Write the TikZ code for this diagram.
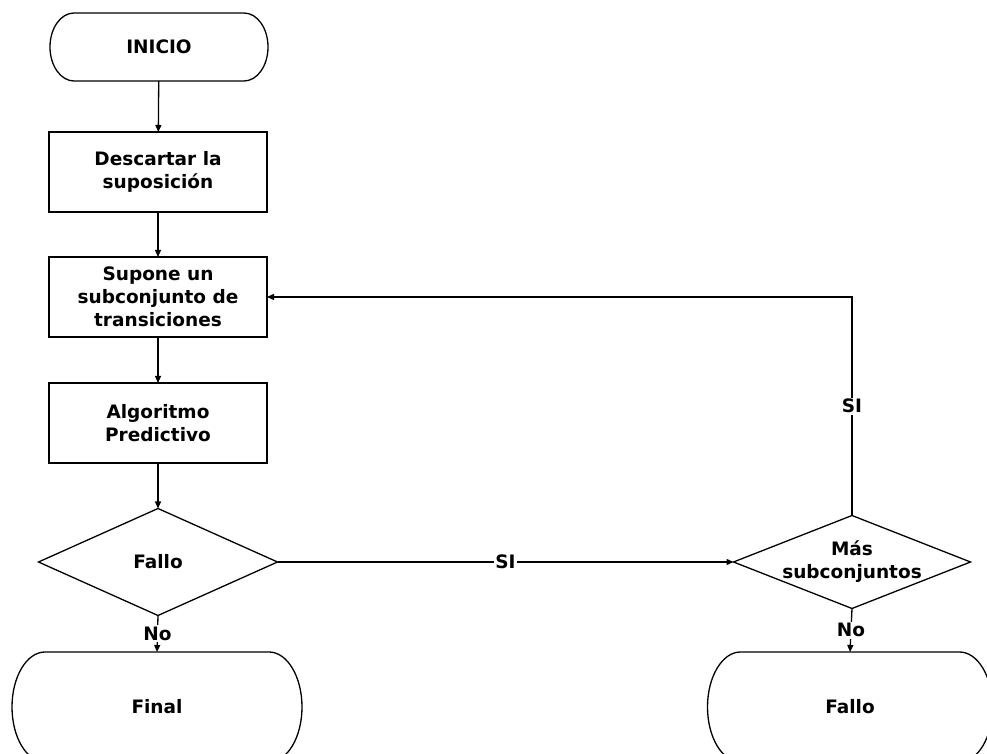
\documentclass[tikz,border=0pt]{standalone}
\usepackage{fontspec}
\setmainfont{DejaVu Sans}
\usetikzlibrary{arrows.meta,shapes.geometric}
\newcommand\stadpath[3]{%
  \draw[line width=1.3pt,fill=white] ([xshift=#2]#1.north west) -- ([xshift=-#2]#1.north east)
    arc[start angle=90,end angle=-90,x radius=#2,y radius=#3]
    -- ([xshift=#2]#1.south west)
    arc[start angle=270,end angle=90,x radius=#2,y radius=#3] -- cycle;}
\tikzset{
  txt/.style={font=\bfseries\fontsize{18.5}{23}\selectfont, align=center},
  boxnode/.style={txt, draw, line width=1.3pt, fill=white, minimum width=218pt, minimum height=80pt, inner sep=0pt, outer sep=0pt},
  stadnode/.style={txt, inner sep=0pt, outer sep=0pt},
  dia/.style={diamond, draw, line width=1.3pt, fill=white, inner sep=0pt, outer sep=0pt},
  arr/.style={line width=1.3pt, -{Triangle[length=7pt,width=6pt]}},
  lbl/.style={txt, fill=white, inner sep=1.5pt}
}
\begin{document}
\begin{tikzpicture}[x=1pt,y=1pt]
\useasboundingbox (0,0) rectangle (987,754);
\clip (0,0) rectangle (987,754);
\fill[white] (0,0) rectangle (987,754);
% stadium nodes (invisible, shapes drawn by path)
\node[stadnode, minimum width=218pt, minimum height=68pt] (inicio) at (159,707) {};
\stadpath{inicio}{24pt}{34pt}
\node[txt] at (inicio) {INICIO};
\node[boxnode] (desc) at (158,582) {Descartar la\\suposición};
\node[boxnode] (sup) at (158,457) {Supone un\\subconjunto de\\transiciones};
\node[boxnode] (alg) at (158,331) {Algoritmo\\Predictivo};
\node[dia, minimum width=239pt, minimum height=107pt] (fallo) at (158,192) {};
\node[txt] at (fallo) {Fallo};
\node[dia, minimum width=237pt, minimum height=93pt] (mas) at (852,192) {};
\node[txt] at (mas) {Más\\subconjuntos};
\node[stadnode, minimum width=290pt, minimum height=110pt] (final) at (157,47) {};
\stadpath{final}{33pt}{55pt}
\node[txt] at (final) {Final};
\node[stadnode, minimum width=285pt, minimum height=110pt] (fallo2) at (850,47) {};
\stadpath{fallo2}{33pt}{55pt}
\node[txt] at (fallo2) {Fallo};
% connectors
\draw[arr] (inicio) -- (desc);
\draw[arr] (desc) -- (sup);
\draw[arr] (sup) -- (alg);
\draw[arr] (alg) -- (fallo);
\draw[arr] (fallo.south) -- node[lbl]{No} (final.north);
\draw[arr] (fallo.east) -- node[lbl]{SI} (mas.west);
\draw[arr] (mas.south) -- node[lbl]{No} (fallo2.north);
\draw[arr] (mas.north) |- node[lbl,pos=0.25]{SI} (sup.east);
\end{tikzpicture}
\end{document}
